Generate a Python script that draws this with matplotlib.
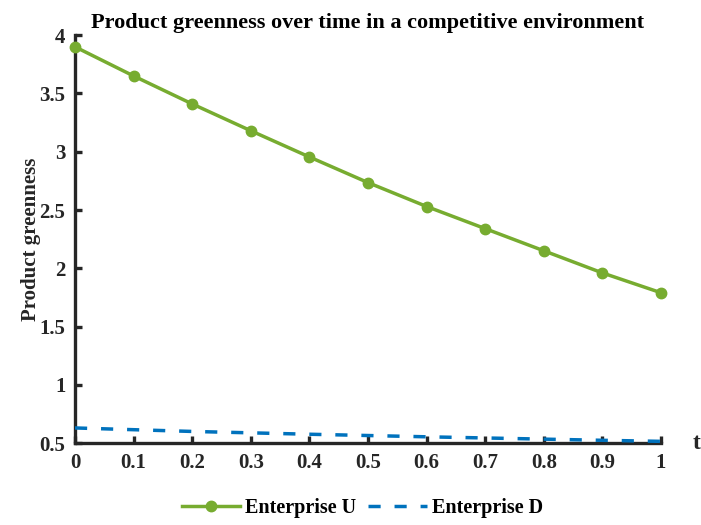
import numpy as np
import matplotlib.pyplot as plt

plt.rcParams['font.family'] = ['Liberation Serif', 'DejaVu Serif']
plt.rcParams['font.weight'] = 'bold'

# data
t = [0, 0.1, 0.2, 0.3, 0.4, 0.5, 0.6, 0.7, 0.8, 0.9, 1.0]
greenness_u = [3.90, 3.65, 3.41, 3.18, 2.955, 2.735, 2.53, 2.34, 2.15, 1.96, 1.79]
greenness_d = [0.63, 0.615, 0.60, 0.588, 0.576, 0.565, 0.554, 0.544, 0.534, 0.524, 0.515]
xticks = [0, 0.1, 0.2, 0.3, 0.4, 0.5, 0.6, 0.7, 0.8, 0.9, 1]
yticks = [0.5, 1, 1.5, 2, 2.5, 3, 3.5, 4]

fig = plt.figure(figsize=[7.01, 5.25], dpi=100)
ax = fig.add_axes([0.107, 0.156, 0.836, 0.777])

ax.plot(t, greenness_u, color="#77AC30", lw=2.5, marker="o", ms=7.5,
        label="Enterprise U", clip_on=False, zorder=3)
ax.plot(t, greenness_d, color="#0072BD", lw=2.5, ls=(0, (3.5, 4)),
        label="Enterprise D", clip_on=False, zorder=3)

ax.set_xlim(0, 1)
ax.set_ylim(0.5, 4)
ax.set_xticks(xticks)
ax.set_xticklabels([f"{v:g}" for v in xticks])
ax.set_yticks(yticks)
ax.set_yticklabels([f"{v:g}" for v in yticks])

for s in ["top", "right"]:
    ax.spines[s].set_visible(False)
for s in ["left", "bottom"]:
    ax.spines[s].set_linewidth(2.4)
    ax.spines[s].set_color("#262626")
ax.tick_params(direction="in", length=5, width=2.4, color="#262626",
               labelsize=15, labelcolor="#262626", pad=7)

ax.set_ylabel("Product greenness", fontsize=15, fontweight="bold", color="#262626",
              labelpad=-1)
ax.set_title("Product greenness over time in a competitive environment",
             fontsize=16, fontweight="bold", pad=5)
ax.text(1.06, 0.0, "t", transform=ax.transAxes, fontsize=17, fontweight="bold",
        color="#262626", ha="center", va="center")

ax.legend(loc="center", bbox_to_anchor=(0.49, -0.159), ncol=2, frameon=False,
          fontsize=14.5, handlelength=2.9, columnspacing=0.6, handletextpad=0.25)

plt.savefig("out.png", dpi=100)
